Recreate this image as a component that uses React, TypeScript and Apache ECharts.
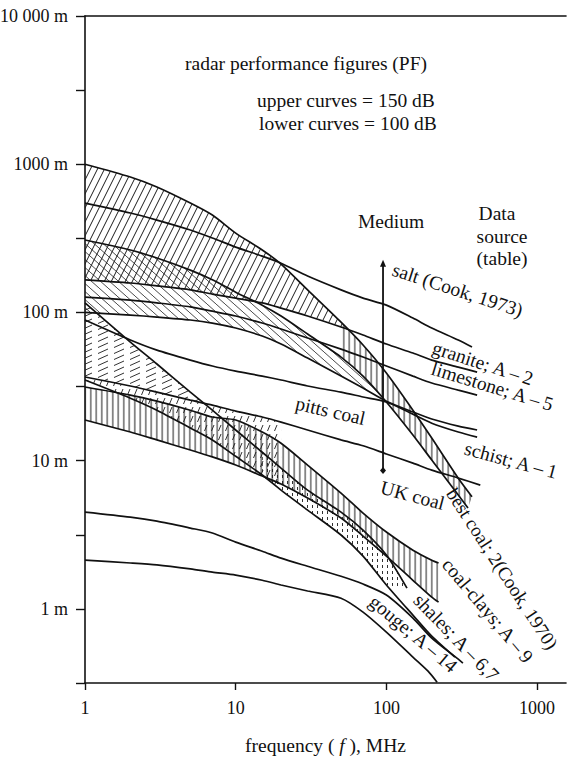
import React, { useEffect, useRef } from 'react';
import * as echarts from 'echarts';

// ---------- data (frequency in MHz, range in m) ----------
const freqGrid = [1, 2, 3, 5, 7, 10, 15, 20, 30, 50, 70, 100, 150, 200, 300];

const bestCoalUpperF = [...freqGrid, 370];
const bestCoalUpperR = [1000, 820, 702, 547, 454, 343, 264, 212, 142, 86, 60.3, 39, 21.9, 14.2, 7.6, 5.7];
const bestCoalLowerF = [...freqGrid, 348];
const bestCoalLowerR = [308, 264, 233, 193, 166, 137, 112, 94.6, 71.5, 50, 37.2, 24.9, 14.9, 10.1, 5.86, 4.79];
const saltF = [...freqGrid, 370];
const saltR = [547, 469, 420, 360, 318, 276, 240, 215, 176, 142, 125, 112, 91.6, 78.5, 65.2, 58.4];
const graniteF = [...freqGrid, 400];
const graniteR = [166, 158, 151, 142, 133, 125, 116, 107, 94.6, 79.7, 70.4, 61.2, 53.2, 47.7, 42.8, 39.6];
const limestoneF = [...freqGrid, 400];
const limestoneR = [127, 121, 116, 109, 102, 94.6, 84.8, 77.3, 67.2, 56.6, 50.0, 43.5, 37.2, 33.4, 29.9, 27.7];
const pittsF = [...freqGrid, 400];
const pittsUpperR = [100, 96, 93.1, 88.9, 84.8, 78.5, 69.3, 61.2, 49.2, 37.2, 30.9, 25.2, 21.3, 19.1, 17.1, 16.1];
const pittsLowerR = [88.9, 65.2, 55.7, 47.7, 43.5, 40.2, 37.2, 35.0, 31.9, 29.0, 26.9, 24.9, 20.6, 17.9, 15.6, 14.4];
const schistF = [...freqGrid, 420];
const schistR = [36.7, 31.9, 29.0, 25.6, 23.7, 21.6, 19.7, 18.2, 16.1, 13.8, 12.6, 11.1, 9.63, 8.64, 7.63, 6.84];
const ukCoalF = [1, 2, 3, 5, 7, 10, 15, 20, 30, 50, 70, 100, 150, 200, 222];
const ukCoalR = [31.4, 27.7, 25.2, 21.9, 19.7, 18.8, 15.6, 13.1, 9.34, 6.04, 4.43, 3.3, 2.49, 2.13, 2.04];
const coalClaysF = [1, 2, 3, 5, 7, 10, 15, 20, 30, 50, 70, 100, 150, 200, 222];
const coalClaysR = [18.8, 15.6, 13.8, 11.8, 10.6, 9.34, 7.87, 6.95, 5.59, 4.1, 3.1, 2.27, 1.56, 1.2, 1.11];
const shalesUpperF = [1, 2, 3, 5, 7, 10, 15, 20, 30, 50, 70, 100, 137];
const shalesUpperR = [116, 63.1, 44.9, 29.0, 21.9, 16.1, 11.4, 8.91, 6.33, 4.5, 3.4, 2.31, 1.38];
const shalesLowerF = [1, 2, 3, 5, 7, 10, 15, 20, 30, 50, 70, 100, 150, 200, 285];
const shalesLowerR = [35.0, 26.4, 21.9, 16.6, 13.8, 10.7, 8.0, 6.33, 4.64, 3.15, 2.27, 1.45, 0.908, 0.655, 0.473];
const gougeUpperF = [...freqGrid, 322];
const gougeUpperR = [4.5, 4.16, 3.91, 3.51, 3.25, 2.82, 2.45, 2.2, 1.94, 1.66, 1.47, 1.24, 0.867, 0.635, 0.458, 0.431];
const gougeLowerF = [1, 2, 3, 5, 7, 10, 15, 20, 30, 50, 70, 100, 150, 189, 217];
const gougeLowerR = [2.13, 2.04, 1.98, 1.86, 1.77, 1.69, 1.56, 1.45, 1.32, 1.18, 0.951, 0.697, 0.473, 0.38, 0.32];

// crossing points that close hatched bands [MHz, m]
const bestCoalGraniteMeet = [56, 76];
const shalesSchistMeet = [6.3, 24];

// vertical "Medium" marker at ~95 MHz
const mediumF = 95;
const mediumRange = [215, 8.6];

const xTicks = [1, 10, 100, 1000];
const yTickLabels: Record<number, string> = { 4: '10 000 m', 3: '1000 m', 2: '100 m', 1: '10 m', 0: '1 m' };

// ---------- styling helpers ----------
const FONT = '"Liberation Serif", "Times New Roman", serif';
const INK = '#111';

function hatch(w: number, h: number, d: string, sw = 1) {
  const svg = `<svg xmlns="http://www.w3.org/2000/svg" width="${w}" height="${h}"><path d="${d}" stroke="#1a1a1a" stroke-width="${sw}" fill="none"/></svg>`;
  return {
    image: 'data:image/svg+xml;charset=utf-8,' + encodeURIComponent(svg),
    repeat: 'repeat',
    imageWidth: w,
    imageHeight: h,
  };
}

const patSteepSlash = hatch(7, 14, 'M0 14L7 0M-7 14L0 0M7 14L14 0', 1);
const patVertical = hatch(5.5, 4, 'M2.75 -1V5', 1);
const patBackslash = hatch(9, 8, 'M0 0L9 8M-9 0L0 8M9 0L18 8', 0.8);
const patShallow = hatch(16, 6, 'M2 5.5L12 1', 0.9);
const patShort = hatch(7, 9, 'M1.5 8L4 2', 0.9);
const patDots = hatch(5, 6, 'M2.5 1V4', 0.9);

function pairs(f: number[], r: number[]) {
  return f.map((x, i) => [x, r[i]]);
}

function lineSeries(name: string, f: number[], r: number[]) {
  return {
    type: 'line',
    name,
    data: pairs(f, r),
    showSymbol: false,
    smooth: 0.25,
    silent: true,
    z: 3,
    lineStyle: { color: INK, width: 1.7 },
  };
}

function bandSeries(upper: number[][], lower: number[][], pattern: any) {
  return {
    type: 'custom',
    coordinateSystem: 'cartesian2d',
    silent: true,
    z: 1,
    data: [[1, 1]],
    renderItem: (_params: any, api: any) => {
      const pts: number[][] = [];
      upper.forEach((p) => pts.push(api.coord(p)));
      for (let i = lower.length - 1; i >= 0; i--) pts.push(api.coord(lower[i]));
      return {
        type: 'polygon',
        shape: { points: pts },
        style: { fill: pattern, stroke: null },
      };
    },
  };
}

const sel = (f: number[], r: number[], lo: number, hi: number) =>
  pairs(f, r).filter((p) => p[0] >= lo && p[0] <= hi);

function txt(text: string, x: number, y: number, rotDeg = 0, opts: any = {}) {
  return {
    type: 'text',
    x,
    y,
    rotation: (rotDeg * Math.PI) / 180,
    silent: true,
    z: 10,
    style: {
      text,
      fill: INK,
      fontFamily: FONT,
      fontSize: opts.size || 19.5,
      align: opts.align || 'left',
      verticalAlign: 'middle',
    },
  };
}

const TS = '\u2009';

function buildOption() {
  const bands = [
    bandSeries(
      [...sel(bestCoalUpperF, bestCoalUpperR, 1, 50), bestCoalGraniteMeet],
      sel(graniteF, graniteR, 1, 50),
      patSteepSlash
    ),
    bandSeries(sel(bestCoalUpperF, bestCoalUpperR, 50, 400), sel(bestCoalLowerF, bestCoalLowerR, 50, 400), patVertical),
    bandSeries(sel(bestCoalLowerF, bestCoalLowerR, 1, 100), sel(pittsF, pittsUpperR, 1, 100), patBackslash),
    bandSeries(
      [...sel(shalesUpperF, shalesUpperR, 1, 5), shalesSchistMeet],
      sel(schistF, schistR, 1, 5),
      patShallow
    ),
    bandSeries(sel(ukCoalF, ukCoalR, 1, 250), sel(coalClaysF, coalClaysR, 1, 250), patVertical),
    bandSeries(sel(schistF, schistR, 1, 20), sel(shalesLowerF, shalesLowerR, 1, 20), patShort),
    bandSeries(sel(shalesUpperF, shalesUpperR, 15, 140), sel(shalesLowerF, shalesLowerR, 15, 100), patDots),
  ];

  const lines = [
    lineSeries('best coal 150 dB', bestCoalUpperF, bestCoalUpperR),
    lineSeries('best coal 100 dB', bestCoalLowerF, bestCoalLowerR),
    lineSeries('salt', saltF, saltR),
    lineSeries('granite', graniteF, graniteR),
    lineSeries('limestone', limestoneF, limestoneR),
    lineSeries('pitts coal 150 dB', pittsF, pittsUpperR),
    lineSeries('pitts coal 100 dB', pittsF, pittsLowerR),
    lineSeries('schist', schistF, schistR),
    lineSeries('UK coal', ukCoalF, ukCoalR),
    lineSeries('coal-clays', coalClaysF, coalClaysR),
    lineSeries('shales 150 dB', shalesUpperF, shalesUpperR),
    lineSeries('shales 100 dB', shalesLowerF, shalesLowerR),
    lineSeries('gouge 150 dB', gougeUpperF, gougeUpperR),
    lineSeries('gouge 100 dB', gougeLowerF, gougeLowerR),
  ];

  const medium = {
    type: 'line',
    name: 'Medium',
    silent: true,
    z: 4,
    showSymbol: true,
    lineStyle: { color: INK, width: 1.8 },
    itemStyle: { color: INK },
    data: [
      { value: [mediumF, mediumRange[0]], symbol: 'triangle', symbolSize: [6, 7] },
      { value: [mediumF, mediumRange[1]], symbol: 'diamond', symbolSize: [6, 7] },
    ],
  };

  const isPow10 = (v: number) => {
    const l = Math.log10(v);
    return Math.abs(l - Math.round(l)) < 0.01;
  };

  return {
    animation: false,
    backgroundColor: '#fff',
    grid: { left: 85, top: 16, width: 481, height: 667, outerBoundsMode: 'none', containLabel: false },
    xAxis: [
      {
        type: 'log',
        logBase: 10,
        min: 1,
        max: 1556,
        position: 'bottom',
        axisLine: { show: true, lineStyle: { color: INK, width: 1.6 } },
        axisTick: { show: true, inside: false, length: 7, customValues: xTicks, lineStyle: { color: INK, width: 1.4 } },
        axisLabel: {
          margin: 16,
          color: INK,
          fontFamily: FONT,
          fontSize: 18,
          formatter: (v: number) => (isPow10(v) && xTicks.includes(Math.round(v)) ? String(Math.round(v)) : ''),
        },
        splitLine: { show: false },
        minorTick: { show: false },
        name: 'frequency ( {i|f} ), MHz',
        nameLocation: 'middle',
        nameGap: 52,
        nameTextStyle: {
          color: INK,
          fontFamily: FONT,
          fontSize: 19.5,
          rich: { i: { fontStyle: 'italic', fontFamily: FONT, fontSize: 19.5, color: INK } },
        },
      },
      {
        type: 'log',
        logBase: 10,
        min: 1,
        max: 1556,
        position: 'top',
        axisLine: { show: true, lineStyle: { color: INK, width: 1.6 } },
        axisTick: { show: false },
        axisLabel: { show: false },
        splitLine: { show: false },
      },
    ],
    yAxis: {
      type: 'log',
      logBase: Math.sqrt(10),
      min: Math.sqrt(10) / 10,
      max: 10000,
      axisLine: { show: true, lineStyle: { color: INK, width: 1.6 } },
      axisTick: { show: true, inside: false, length: 9, lineStyle: { color: INK, width: 1.4 } },
      axisLabel: {
        margin: 17,
        color: INK,
        fontFamily: FONT,
        fontSize: 18,
        formatter: (v: number) => {
          if (!isPow10(v)) return '';
          return yTickLabels[Math.round(Math.log10(v))] || '';
        },
      },
      splitLine: { show: false },
      minorTick: { show: false },
    },
    graphic: [
      txt('radar performance figures (PF)', 185, 63),
      txt('upper curves = 150 dB', 257, 100),
      txt('lower curves = 100 dB', 259, 123),
      txt('Medium', 358, 221),
      txt('Data', 497, 213, 0, { align: 'center' }),
      txt('source', 502, 236, 0, { align: 'center' }),
      txt('(table)', 502, 258, 0, { align: 'center' }),
      txt('salt (Cook, 1973)', 393, 269, -18),
      txt(`granite; A${TS}–${TS}2`, 433, 347, -18),
      txt(`limestone; A${TS}–${TS}5`, 432, 368, -17),
      txt('pitts coal', 296, 403, -13),
      txt(`schist; A${TS}–${TS}1`, 465, 448, -15),
      txt('UK coal', 381, 487, -15),
      txt('best coal; 2(Cook, 1970)', 451, 490, -57, { size: 19 }),
      txt(`coal-clays; A${TS}–${TS}9`, 446, 561, -50),
      txt(`shales; A${TS}–${TS}6,7`, 417, 597, -46),
      txt(`gouge; A${TS}–${TS}14`, 372, 599, -40),
    ],
    series: [...bands, ...lines, medium],
  };
}

export default function App() {
  const ref = useRef<HTMLDivElement>(null);
  useEffect(() => {
    if (!ref.current) return;
    const chart = echarts.init(ref.current, null, { renderer: 'svg' });
    chart.setOption(buildOption() as any);
    return () => chart.dispose();
  }, []);
  return (
    <div
      ref={ref}
      style={{ position: 'fixed', left: 0, top: 0, width: 569, height: 760, background: '#fff' }}
    />
  );
}
